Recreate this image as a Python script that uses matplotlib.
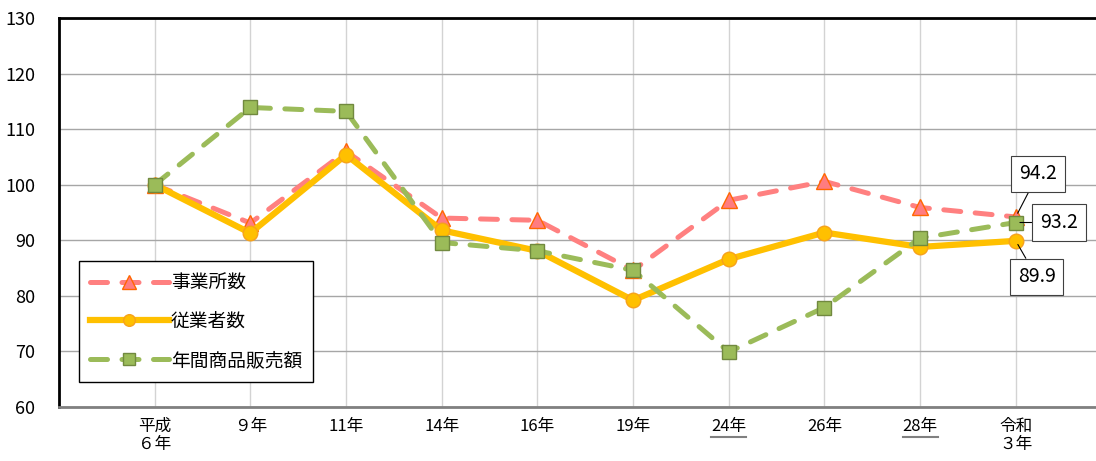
import matplotlib
matplotlib.use('Agg')
import matplotlib.pyplot as plt
from matplotlib.lines import Line2D

plt.rcParams['font.family'] = ['Noto Sans CJK JP', 'DejaVu Sans']

years = ['平成\n６年', '９年', '11年', '14年', '16年', '19年', '24年', '26年', '28年', '令和\n３年']
underlined = ['24年', '28年']
establishments = [100, 93.1, 106.0, 94.0, 93.6, 84.6, 97.2, 100.6, 95.9, 94.2]
employees = [100, 91.3, 105.4, 91.8, 88.1, 79.2, 86.6, 91.4, 88.8, 89.9]
sales = [100, 113.9, 113.2, 89.6, 88.1, 84.6, 69.9, 77.9, 90.4, 93.2]
labels = ['事業所数', '従業者数', '年間商品販売額']

fig = plt.figure(figsize=(10.96, 4.61), dpi=100)
ax = fig.add_axes([59 / 1096, 54 / 461, 1040 / 1096, 389 / 461])

x = list(range(len(years)))

ax.plot(x, establishments, color='#FF8080', lw=3.6, dashes=(3.4, 2.9),
        dash_capstyle='round', marker='^', markersize=12,
        markerfacecolor='#FF7C80', markeredgecolor='#FF6600', markeredgewidth=1,
        label=labels[0], zorder=3)
ax.plot(x, employees, color='#FFC000', lw=4.5, marker='o', markersize=10.5,
        markerfacecolor='#FFC000', markeredgecolor='#F7A21B', markeredgewidth=1,
        label=labels[1], zorder=4)
ax.plot(x, sales, color='#9BBB59', lw=3.6, dashes=(3.4, 2.9),
        dash_capstyle='round', marker='s', markersize=10.5,
        markerfacecolor='#9BBB59', markeredgecolor='#71893F', markeredgewidth=1,
        label=labels[2], zorder=5)

ax.set_ylim(60, 130)
ax.set_yticks(range(60, 131, 10))
ax.set_xlim(-1, 9.87)
ax.set_xticks(x)
ax.set_xticklabels(years, fontsize=12, linespacing=1.1)
ax.tick_params(axis='y', length=0, pad=17, labelsize=13)
ax.tick_params(axis='x', length=0, pad=8)

ax.grid(axis='y', color='#A6A6A6', lw=1)
ax.grid(axis='x', color='#D3D3D3', lw=1)
ax.set_axisbelow(True)
ax.spines['top'].set_linewidth(2)
ax.spines['left'].set_linewidth(2)
ax.spines['top'].set_color('black')
ax.spines['left'].set_color('black')
ax.spines['bottom'].set_color('#808080')
ax.spines['bottom'].set_linewidth(2)
ax.spines['right'].set_visible(False)

leg = ax.legend(loc='lower left', bbox_to_anchor=(0.019, 0.064), fontsize=13.5,
                handlelength=4.2, labelspacing=0.95, borderpad=0.6,
                handletextpad=0.1, fancybox=False, framealpha=1,
                markerscale=0.8, edgecolor='black', borderaxespad=0)
leg.get_frame().set_linewidth(1)

box = dict(boxstyle='square,pad=0.4', fc='white', ec='#404040', lw=0.8)
arrow = dict(arrowstyle='-', color='black', lw=0.8, shrinkA=0, shrinkB=3)
last = len(years) - 1
ax.annotate(f'{establishments[-1]:.1f}', (last, establishments[-1]), xytext=(16, 31),
            textcoords='offset points', ha='center', va='center', fontsize=14,
            bbox=box, arrowprops=arrow, zorder=6)
ax.annotate(f'{sales[-1]:.1f}', (last, sales[-1]), xytext=(31, 0),
            textcoords='offset points', ha='center', va='center', fontsize=14,
            bbox=box, arrowprops=arrow, zorder=6)
ax.annotate(f'{employees[-1]:.1f}', (last, employees[-1]), xytext=(15, -26),
            textcoords='offset points', ha='center', va='center', fontsize=14,
            bbox=box, arrowprops=arrow, zorder=6)

# underline some year labels
fig.canvas.draw()
renderer = fig.canvas.get_renderer()
inv = fig.transFigure.inverted()
for lab in ax.get_xticklabels():
    if lab.get_text() in underlined:
        bb = lab.get_window_extent(renderer)
        (x0, y0), (x1, _) = inv.transform([(bb.x0, bb.y0), (bb.x1, bb.y1)])
        fig.add_artist(Line2D([x0, x1], [y0 - 0.004, y0 - 0.004], color='#808080',
                              lw=1.5, transform=fig.transFigure))

fig.savefig('out.png', dpi=100)
